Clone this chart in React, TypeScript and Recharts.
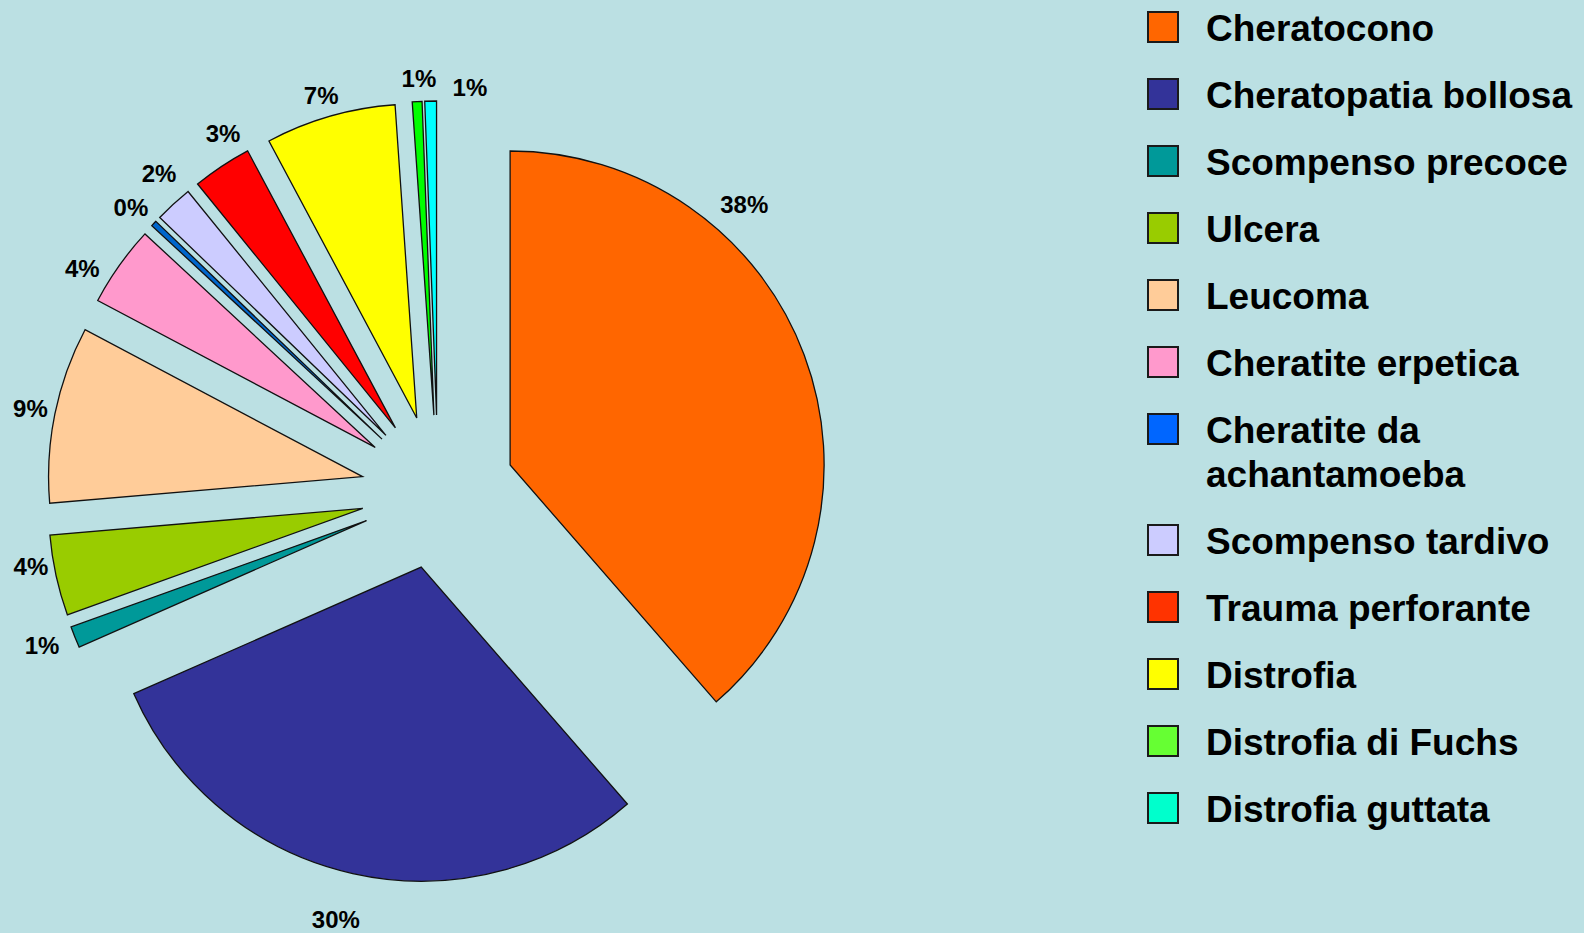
import { PieChart, Pie, Sector } from "recharts";

const categories = [
  "Cheratocono",
  "Cheratopatia bollosa",
  "Scompenso precoce",
  "Ulcera",
  "Leucoma",
  "Cheratite erpetica",
  "Cheratite da achantamoeba",
  "Scompenso tardivo",
  "Trauma perforante",
  "Distrofia",
  "Distrofia di Fuchs",
  "Distrofia guttata",
];

// share of each slice
const shares = [38.6, 29.8, 1.1, 4.15, 9.1, 4.15, 0.3, 1.95, 3.05, 6.7, 0.5, 0.6];

// the percentages printed next to the slices
const percentLabels = ["38%", "30%", "1%", "4%", "9%", "4%", "0%", "2%", "3%", "7%", "1%", "1%"];

const sliceColors = [
  "#FF6600", "#333399", "#009999", "#99CC00", "#FFCC99", "#FF99CC",
  "#0066CC", "#CCCCFF", "#FF0000", "#FFFF00", "#00FF00", "#00FFFF",
];

const legendColors = [
  "#FF6600", "#333399", "#009999", "#99CC00", "#FFCC99", "#FF99CC",
  "#0066FF", "#CCCCFF", "#FF3300", "#FFFF00", "#66FF33", "#00FFCC",
];

// labels were dragged around a bit in the original
const labelTurn = [-27.5, 1, 0.6, 2.3, 0, -4, -0.8, 1.6, 3.2, -0.5, 0.5, 6.9];
const labelDist = [350, 363, 348, 337, 339, 343, 341, 346, 341, 336, 336, 329];

const EXPLODE = 77;
const RAD = Math.PI / 180;
const BG = "#BBE0E3";
const FONT = "Arial, 'Liberation Sans', sans-serif";

const rows = categories.map((name, i) => ({ name, value: shares[i] }));

// draws the pulled-out wedge plus its percentage
const ExplodedSlice = (props: any) => {
  const { cx, cy, outerRadius, startAngle, endAngle, index } = props;
  const mid = (startAngle + endAngle) / 2;
  const ox = cx + EXPLODE * Math.cos(mid * RAD);
  const oy = cy - EXPLODE * Math.sin(mid * RAD);
  const a = (mid - labelTurn[index]) * RAD;
  const tx = ox + labelDist[index] * Math.cos(a);
  const ty = oy - labelDist[index] * Math.sin(a);
  return (
    <g>
      <Sector
        cx={ox}
        cy={oy}
        innerRadius={0}
        outerRadius={outerRadius}
        startAngle={startAngle}
        endAngle={endAngle}
        fill={sliceColors[index]}
        stroke="#111"
        strokeWidth={1.3}
      />
      <text
        x={tx}
        y={ty}
        dy={8}
        textAnchor="middle"
        fontFamily={FONT}
        fontWeight="bold"
        fontSize={24}
        fill="#000"
      >
        {percentLabels[index]}
      </text>
    </g>
  );
};

function LegendBox() {
  return (
    <div
      style={{
        position: "absolute",
        left: 1147,
        top: 7,
        fontFamily: FONT,
        fontWeight: "bold",
        fontSize: 37,
        lineHeight: "44px",
        color: "#000",
      }}
    >
      {categories.map((name, i) => (
        <div key={name} style={{ display: "flex", alignItems: "flex-start", marginBottom: 23 }}>
          <div
            style={{
              width: 28,
              height: 28,
              marginTop: 4,
              background: legendColors[i],
              border: "2px solid #1a1a1a",
              flexShrink: 0,
            }}
          />
          <div style={{ marginLeft: 27, width: 376 }}>{name}</div>
        </div>
      ))}
    </div>
  );
}

export default function App() {
  return (
    <div
      style={{
        position: "fixed",
        left: 0,
        top: 0,
        width: 1584,
        height: 933,
        background: BG,
        overflow: "hidden",
      }}
    >
      <PieChart width={1100} height={933} margin={{ top: 0, right: 0, bottom: 0, left: 0 }}>
        <Pie
          data={rows}
          dataKey="value"
          nameKey="name"
          cx={438}
          cy={492}
          innerRadius={0}
          outerRadius={314}
          startAngle={90}
          endAngle={-270}
          fill="none"
          stroke="none"
          label={ExplodedSlice}
          labelLine={false}
          isAnimationActive={false}
        />
      </PieChart>
      <LegendBox />
    </div>
  );
}
